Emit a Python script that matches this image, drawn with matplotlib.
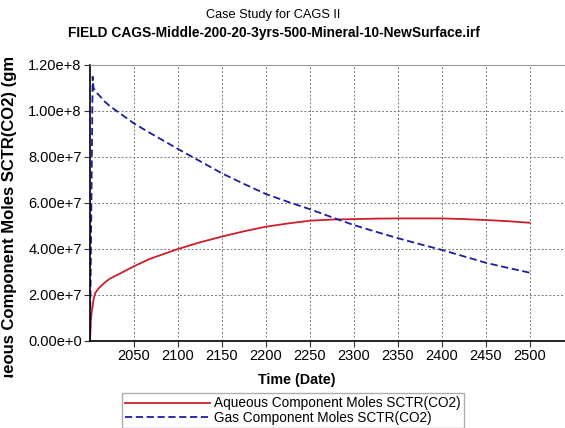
import matplotlib.pyplot as plt
from matplotlib.ticker import FuncFormatter
from matplotlib.transforms import Bbox

plt.rcParams['font.family'] = ['Liberation Sans', 'DejaVu Sans']

# years and values
years = [2000, 2001, 2002, 2003, 2004, 2006, 2010, 2017, 2023, 2034, 2050, 2068, 2100, 2125, 2150,
         2175, 2200, 2225, 2250, 2275, 2300, 2325, 2350, 2375, 2400, 2425, 2450, 2475, 2500]
aqueous = [0.0, 9.0e6, 1.3e7, 1.5e7, 1.8e7, 2.09e7, 2.3e7, 2.55e7, 2.72e7, 2.93e7, 3.25e7, 3.57e7, 4.0e7,
           4.29e7, 4.54e7, 4.77e7, 4.97e7, 5.11e7, 5.23e7, 5.28e7, 5.30e7, 5.32e7, 5.33e7,
           5.33e7, 5.33e7, 5.30e7, 5.26e7, 5.21e7, 5.14e7]
gas = [0.0, 3.8e7, 7.6e7, 1.149e8, 1.10e8, 1.085e8, 1.07e8, 1.04e8, 1.02e8, 9.9e7, 9.46e7, 9.05e7, 8.35e7,
       7.82e7, 7.29e7, 6.83e7, 6.39e7, 6.05e7, 5.73e7, 5.38e7, 5.04e7, 4.75e7, 4.47e7,
       4.21e7, 3.96e7, 3.68e7, 3.40e7, 3.18e7, 2.97e7]
xticks = [2050, 2100, 2150, 2200, 2250, 2300, 2350, 2400, 2450, 2500]
yticks = [0, 2e7, 4e7, 6e7, 8e7, 1e8, 1.2e8]

fig = plt.figure(figsize=(5.65, 4.28), dpi=100)
ax = fig.add_axes([90 / 565, 1 - 341 / 428, 475 / 565, 276 / 428])

l1, = ax.plot(years, aqueous, color='#cc1f2a', lw=1.3, label='Aqueous Component Moles SCTR(CO2)')
l2, = ax.plot(years, gas, color='#1c1ca0', lw=1.3, ls=(0, (4, 2)), label='Gas Component Moles SCTR(CO2)')

ax.set_xlim(2000, 2540)
ax.set_ylim(0, 1.2e8)
ax.set_xticks(xticks)
ax.set_yticks(yticks)

def sci(v, pos):
    if v == 0:
        return '0.00e+0'
    exp = len(str(int(abs(v)))) - 1
    return '%.2fe+%d' % (v / 10 ** exp, exp)

ax.yaxis.set_major_formatter(FuncFormatter(sci))
ax.tick_params(labelsize=10.5, direction='out', length=4, color='#333333', pad=2)
ax.grid(True, ls=(0, (2, 2)), color='#777777', lw=0.7)
ax.spines['right'].set_visible(False)
ax.spines['top'].set_color('#999999')
ax.spines['left'].set_linewidth(1.2)
ax.spines['bottom'].set_linewidth(1.2)

ax.set_xlabel('Time (Date)', fontsize=10.3, fontweight='bold')
ax.xaxis.set_label_coords(0.436, -0.115)

ylab = fig.text(10 / 565, 1 - 216 / 428, 'Aqueous Component Moles SCTR(CO2) (gmole)',
                rotation=90, ha='center', va='center', fontsize=12, fontweight='bold')
ylab.set_clip_box(Bbox.from_extents(0, 428 - 378, 30, 428 - 58))
ylab.set_clip_on(True)

fig.text(273 / 565, 1 - 15 / 428, 'Case Study for CAGS II', ha='center', va='center', fontsize=9.2)
fig.text(274 / 565, 1 - 33 / 428, 'FIELD CAGS-Middle-200-20-3yrs-500-Mineral-10-NewSurface.irf',
         ha='center', va='center', fontsize=9.9, fontweight='bold')

leg = fig.legend(handles=[l1, l2], loc='upper left', bbox_to_anchor=(122 / 565, 1 - 393 / 428),
                 fontsize=9.8, frameon=True, fancybox=False, handlelength=6.2,
                 handletextpad=0.3, labelspacing=0.05, borderpad=0.25, borderaxespad=0)
leg.get_frame().set_edgecolor('#999999')
leg.get_frame().set_linewidth(1.0)

fig.savefig('out.png', dpi=100)
